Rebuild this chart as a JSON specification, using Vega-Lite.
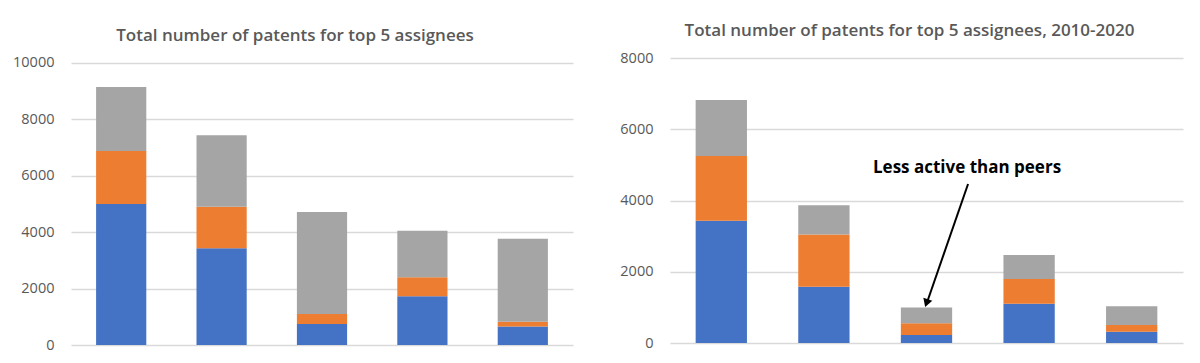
{
  "$schema": "https://vega.github.io/schema/vega-lite/v6.json",
  "background": "white",
  "padding": {"left": 12, "top": 22, "right": 12, "bottom": 6},
  "spacing": 46,
  "datasets": {
    "allYears": [
      {"assignee": "Assignee 1", "series": "S1", "value": 5000},
      {"assignee": "Assignee 1", "series": "S2", "value": 1880},
      {"assignee": "Assignee 1", "series": "S3", "value": 2270},
      {"assignee": "Assignee 2", "series": "S1", "value": 3435},
      {"assignee": "Assignee 2", "series": "S2", "value": 1465},
      {"assignee": "Assignee 2", "series": "S3", "value": 2540},
      {"assignee": "Assignee 3", "series": "S1", "value": 745},
      {"assignee": "Assignee 3", "series": "S2", "value": 355},
      {"assignee": "Assignee 3", "series": "S3", "value": 3620},
      {"assignee": "Assignee 4", "series": "S1", "value": 1725},
      {"assignee": "Assignee 4", "series": "S2", "value": 675},
      {"assignee": "Assignee 4", "series": "S3", "value": 1650},
      {"assignee": "Assignee 5", "series": "S1", "value": 660},
      {"assignee": "Assignee 5", "series": "S2", "value": 165},
      {"assignee": "Assignee 5", "series": "S3", "value": 2945}
    ],
    "recent": [
      {"assignee": "Assignee 1", "series": "S1", "value": 3430},
      {"assignee": "Assignee 1", "series": "S2", "value": 1820},
      {"assignee": "Assignee 1", "series": "S3", "value": 1570},
      {"assignee": "Assignee 2", "series": "S1", "value": 1580},
      {"assignee": "Assignee 2", "series": "S2", "value": 1465},
      {"assignee": "Assignee 2", "series": "S3", "value": 825},
      {"assignee": "Assignee 3", "series": "S1", "value": 225},
      {"assignee": "Assignee 3", "series": "S2", "value": 330},
      {"assignee": "Assignee 3", "series": "S3", "value": 445},
      {"assignee": "Assignee 4", "series": "S1", "value": 1103},
      {"assignee": "Assignee 4", "series": "S2", "value": 693},
      {"assignee": "Assignee 4", "series": "S3", "value": 674},
      {"assignee": "Assignee 5", "series": "S1", "value": 318},
      {"assignee": "Assignee 5", "series": "S2", "value": 187},
      {"assignee": "Assignee 5", "series": "S3", "value": 525}
    ]
  },
  "hconcat": [
    {
      "title": {"text": "Total number of patents for top 5 assignees", "dx": -27, "offset": 10},
      "width": 502,
      "height": 287,
      "data": {"name": "allYears"},
      "mark": {"type": "bar"},
      "encoding": {
        "x": {"field": "assignee", "type": "nominal", "axis": null, "scale": {"paddingInner": 0.5, "paddingOuter": 0.25}},
        "y": {"field": "value", "type": "quantitative", "stack": "zero", "scale": {"domain": [0, 10177], "nice": false},
              "axis": {"values": [0, 2000, 4000, 6000, 8000, 10000], "title": null, "format": "d"}},
        "color": {"field": "series", "type": "nominal", "legend": null,
                  "scale": {"domain": ["S1", "S2", "S3"], "range": ["#4472C4", "#ED7D31", "#A5A5A5"]}},
        "order": {"field": "series", "sort": "ascending"}
      }
    },
    {
      "title": {"text": "Total number of patents for top 5 assignees, 2010-2020", "dx": -17, "offset": 10},
      "width": 513,
      "height": 285,
      "layer": [
        {
          "data": {"name": "recent"},
          "mark": {"type": "bar"},
          "encoding": {
            "x": {"field": "assignee", "type": "nominal", "axis": null, "scale": {"paddingInner": 0.5, "paddingOuter": 0.25}},
            "y": {"field": "value", "type": "quantitative", "stack": "zero", "scale": {"domain": [0, 8000], "nice": false},
                  "axis": {"values": [0, 2000, 4000, 6000, 8000], "title": null, "format": "d"}},
            "color": {"field": "series", "type": "nominal", "legend": null,
                      "scale": {"domain": ["S1", "S2", "S3"], "range": ["#4472C4", "#ED7D31", "#A5A5A5"]}},
            "order": {"field": "series", "sort": "ascending"}
          }
        },
        {
          "data": {"values": [{}]},
          "mark": {"type": "rule", "color": "black", "strokeWidth": 2},
          "encoding": {
            "x": {"datum": 2.905, "type": "quantitative", "scale": {"domain": [0, 5]}, "axis": null},
            "x2": {"datum": 2.51},
            "y": {"datum": 4463, "type": "quantitative"},
            "y2": {"datum": 1180}
          }
        },
        {
          "data": {"values": [{}]},
          "mark": {"type": "point", "shape": "triangle-down", "filled": true, "color": "black", "opacity": 1, "size": 90, "angle": 19},
          "encoding": {
            "x": {"datum": 2.5, "type": "quantitative", "scale": {"domain": [0, 5]}, "axis": null},
            "y": {"datum": 1120, "type": "quantitative"}
          }
        },
        {
          "data": {"values": [{}]},
          "mark": {"type": "text", "font": "Open Sans", "fontWeight": "bold", "fontSize": 17, "color": "black", "align": "center", "baseline": "middle"},
          "encoding": {
            "x": {"datum": 2.895, "type": "quantitative", "scale": {"domain": [0, 5]}, "axis": null},
            "y": {"datum": 4912, "type": "quantitative"},
            "text": {"value": "Less active than peers"}
          }
        }
      ],
      "resolve": {"scale": {"x": "independent"}}
    }
  ],
  "config": {
    "view": {"stroke": null},
    "title": {"font": "Open Sans", "fontSize": 17, "fontWeight": 600, "color": "#595959", "anchor": "middle"},
    "axis": {
      "labelFont": "Open Sans", "labelFontSize": 14.5, "labelColor": "#595959",
      "grid": true, "gridColor": "#D9D9D9", "gridWidth": 1.3,
      "domain": false, "ticks": false, "labelPadding": 17
    }
  }
}
